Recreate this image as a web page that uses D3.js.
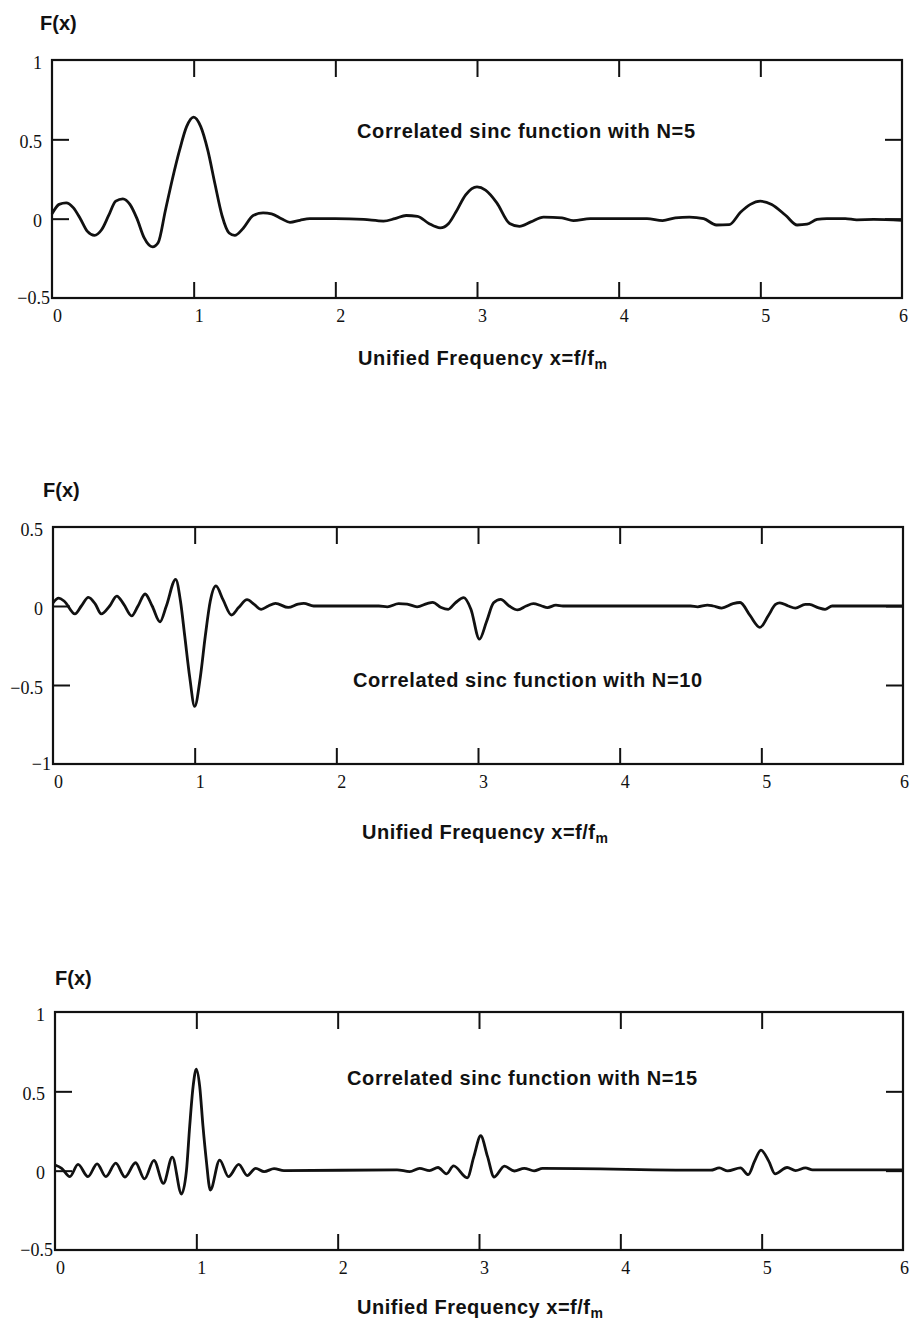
<!DOCTYPE html>
<html>
<head>
<meta charset="utf-8">
<script src="https://cdnjs.cloudflare.com/ajax/libs/d3/7.8.5/d3.min.js"></script>
<style>
  body { margin: 0; background: #fff; }
  .lab { font-family: "Liberation Sans", Arial, sans-serif; font-weight: bold; font-size: 20px; fill: #111; }
  .num { font-family: "Liberation Serif", "Times New Roman", serif; font-size: 18px; fill: #111; }
</style>
</head>
<body>
<svg id="chart" width="910" height="1324"></svg>
<script>
// values
var n5X = [0.00, 0.05, 0.10, 0.15, 0.20, 0.25, 0.30, 0.35, 0.40, 0.45, 0.50, 0.55, 0.60, 0.65, 0.71, 0.75,
  0.80, 0.85, 0.90, 0.95, 1.00, 1.05, 1.10, 1.15, 1.20, 1.25, 1.29, 1.35, 1.42, 1.49, 1.55, 1.62, 1.68, 1.75,
  1.82, 2.00, 2.20, 2.34, 2.42, 2.50, 2.58, 2.66, 2.74, 2.80, 2.85, 2.92, 3.00, 3.06, 3.14, 3.23, 3.30, 3.38,
  3.47, 3.60, 3.68, 3.80, 4.20, 4.31, 4.40, 4.50, 4.60, 4.69, 4.78, 4.86, 4.93, 5.00, 5.08, 5.18, 5.26, 5.33,
  5.40, 5.47, 5.60, 5.68, 5.80, 6.00]
var n5Y = [0.03, 0.09, 0.10, 0.07, 0.00, -0.08, -0.105, -0.07, 0.02, 0.11, 0.125, 0.09, 0.00, -0.12, -0.178, -0.15,
  0.05, 0.25, 0.43, 0.58, 0.64, 0.58, 0.43, 0.22, 0.02, -0.09, -0.105, -0.06, 0.02, 0.036, 0.03, 0.00, -0.023, -0.01,
  0.00, 0.00, -0.005, -0.015, 0.00, 0.02, 0.015, -0.03, -0.058, -0.03, 0.04, 0.15, 0.20, 0.18, 0.10, -0.03, -0.048, -0.02,
  0.01, 0.005, -0.012, 0.00, 0.00, -0.012, 0.005, 0.01, 0.00, -0.04, -0.038, 0.04, 0.09, 0.11, 0.09, 0.02, -0.04, -0.035,
  -0.005, 0.00, 0.00, -0.007, -0.005, -0.01]

var n10X = [0.00, 0.04, 0.08, 0.155, 0.20, 0.25, 0.30, 0.34, 0.40, 0.45, 0.50, 0.555, 0.60, 0.65, 0.70, 0.755, 0.80,
  0.866, 0.90, 0.93, 0.965, 1.00, 1.04, 1.075, 1.11, 1.15, 1.20, 1.26, 1.31, 1.37, 1.42, 1.47, 1.52, 1.57, 1.66,
  1.73, 1.77, 1.84, 2.30, 2.36, 2.44, 2.50, 2.57, 2.64, 2.68, 2.74, 2.79, 2.84, 2.90, 2.95, 3.01, 3.06, 3.11,
  3.16, 3.22, 3.28, 3.34, 3.39, 3.45, 3.49, 3.55, 3.60, 4.50, 4.55, 4.62, 4.66, 4.72, 4.80, 4.85, 4.92, 4.99,
  5.05, 5.10, 5.13, 5.19, 5.24, 5.31, 5.34, 5.40, 5.45, 5.50, 6.00]
var n10Y = [0.02, 0.05, 0.03, -0.05, 0.00, 0.055, 0.01, -0.05, 0.00, 0.063, 0.01, -0.063, 0.00, 0.076, 0.00, -0.10, 0.00,
  0.169, 0.03, -0.19, -0.45, -0.635, -0.45, -0.19, 0.03, 0.127, 0.04, -0.057, -0.01, 0.04, 0.01, -0.021, 0.00, 0.017, -0.009,
  0.012, 0.017, 0.00, 0.00, -0.005, 0.015, 0.012, -0.005, 0.015, 0.023, -0.01, -0.021, 0.02, 0.053, -0.02, -0.21, -0.10, 0.02,
  0.042, 0.00, -0.025, 0.00, 0.015, 0.00, -0.01, 0.005, 0.00, 0.00, -0.005, 0.006, 0.00, -0.013, 0.015, 0.022, -0.06, -0.135,
  -0.06, 0.01, 0.02, 0.00, -0.013, 0.01, 0.01, -0.01, -0.021, 0.00, 0.00]

var n15X = [0.00, 0.047, 0.105, 0.163, 0.233, 0.298, 0.36, 0.43, 0.495, 0.57, 0.633, 0.70, 0.767, 0.83, 0.895, 0.93,
  0.953, 0.977, 1.00, 1.024, 1.047, 1.07, 1.099, 1.165, 1.228, 1.30, 1.36, 1.42, 1.48, 1.55, 1.62, 2.42, 2.51, 2.58,
  2.65, 2.71, 2.77, 2.82, 2.917, 2.964, 3.012, 3.06, 3.107, 3.18, 3.25, 3.32, 3.39, 3.45, 4.64, 4.70, 4.76, 4.85,
  4.905, 4.95, 4.995, 5.05, 5.095, 5.18, 5.24, 5.31, 5.36, 6.00]
var n15Y = [0.036, 0.015, -0.038, 0.04, -0.038, 0.043, -0.038, 0.047, -0.04, 0.05, -0.052, 0.065, -0.08, 0.085, -0.147, 0.00,
  0.28, 0.53, 0.64, 0.53, 0.28, 0.07, -0.122, 0.067, -0.038, 0.04, -0.031, 0.015, -0.006, 0.013, 0.00, 0.005, -0.006, 0.015,
  0.00, 0.02, -0.02, 0.03, -0.045, 0.09, 0.22, 0.09, -0.04, 0.028, -0.002, 0.015, -0.001, 0.014, 0.003, 0.017, -0.001, 0.017,
  -0.025, 0.06, 0.13, 0.06, -0.02, 0.02, 0.00, 0.017, 0.005, 0.005]

var xTicks = [0, 1, 2, 3, 4, 5, 6]
var yTicksA = [-0.5, 0, 0.5, 1]
var yLabelsA = ["\u22120.5", "0", "0.5", "1"]
var yTicksB = [-1, -0.5, 0, 0.5]
var yLabelsB = ["\u22121", "\u22120.5", "0", "0.5"]
var titles = ["Correlated sinc function with N=5", "Correlated sinc function with N=10", "Correlated sinc function with N=15"]

// page positions of the three plot boxes and their texts
var Panels = [
  { xs: n5X, ys: n5Y, yTicks: yTicksA, yLabels: yLabelsA, title: titles[0],
    left: 52, right: 902, top: 60, bottom: 298,
    fx: [40, 30], note: [357, 138, 338], axis: [358, 365, 249] },
  { xs: n10X, ys: n10Y, yTicks: yTicksB, yLabels: yLabelsB, title: titles[1],
    left: 53, right: 903, top: 527, bottom: 764,
    fx: [43, 497], note: [353, 687, 349], axis: [362, 839, 246] },
  { xs: n15X, ys: n15Y, yTicks: yTicksA, yLabels: yLabelsA, title: titles[2],
    left: 55, right: 903, top: 1012, bottom: 1250,
    fx: [55, 985], note: [347, 1085, 350], axis: [357, 1314, 246] }
]

var svg = d3.select("#chart")
Panels.forEach(drawPanel)

function drawPanel(p) {
  let g = svg.append("g")
  let yDom = d3.extent(p.yTicks)
  let x = d3.scaleLinear().domain([0, 6]).range([p.left, p.right])
  let y = d3.scaleLinear().domain(yDom).range([p.bottom, p.top])
  let inner = function(v, dom) { return v > dom[0] && v < dom[1] }

  // bottom axis: inward ticks, serif labels nudged right like the scan
  let bottom = g.append("g")
    .attr("transform", "translate(0," + p.bottom + ")")
    .call(d3.axisBottom(x).tickValues(xTicks).tickSize(-16).tickPadding(11).tickFormat(d3.format("d")))
  bottom.selectAll(".tick line").filter(d => !inner(d, [0, 6])).remove()
  bottom.selectAll(".tick text").attr("class", "num").attr("font-size", null).attr("font-family", null)
    .attr("dx", d => d == 6 ? 1 : 5)

  g.append("g")
    .attr("transform", "translate(0," + p.top + ")")
    .call(d3.axisTop(x).tickValues(xTicks.filter(d => inner(d, [0, 6]))).tickSize(-17).tickFormat(""))

  let left = g.append("g")
    .attr("transform", "translate(" + p.left + ",0)")
    .call(d3.axisLeft(y).tickValues(p.yTicks).tickSize(-17).tickPadding(10)
      .tickFormat((d, i) => p.yLabels[i]))
  left.selectAll(".tick line").filter(d => !inner(d, yDom)).remove()
  left.selectAll(".tick text").attr("class", "num").attr("font-size", null).attr("font-family", null)
    .attr("dy", "0.45em")
    .filter(d => d == yDom[0]).attr("x", -2).attr("dy", "0.3em")

  g.append("g")
    .attr("transform", "translate(" + p.right + ",0)")
    .call(d3.axisRight(y).tickValues(p.yTicks.filter(d => inner(d, yDom))).tickSize(-17).tickFormat(""))

  g.selectAll(".domain").remove()
  g.selectAll(".tick line").attr("stroke", "#111").attr("stroke-width", 2)

  g.append("rect")
    .attr("x", p.left).attr("y", p.top)
    .attr("width", p.right - p.left).attr("height", p.bottom - p.top)
    .attr("fill", "none").attr("stroke", "#111").attr("stroke-width", 2.2)

  let line = d3.line()
    .x(d => x(d[0]))
    .y(d => y(d[1]))
    .curve(d3.curveMonotoneX)

  g.append("path")
    .datum(d3.zip(p.xs, p.ys))
    .attr("d", line)
    .attr("fill", "none")
    .attr("stroke", "#111")
    .attr("stroke-width", 2.8)
    .attr("stroke-linejoin", "round")

  g.append("text").attr("class", "lab")
    .attr("x", p.fx[0]).attr("y", p.fx[1]).text("F(x)")

  g.append("text").attr("class", "lab")
    .attr("x", p.note[0]).attr("y", p.note[1])
    .attr("textLength", p.note[2]).attr("lengthAdjust", "spacing")
    .text(p.title)

  let ax = g.append("text").attr("class", "lab")
    .attr("x", p.axis[0]).attr("y", p.axis[1])
    .attr("textLength", p.axis[2]).attr("lengthAdjust", "spacing")
  ax.append("tspan").text("Unified Frequency x=f/f")
  ax.append("tspan").attr("dy", 4).attr("font-size", 14).text("m")
}
</script>
</body>
</html>
